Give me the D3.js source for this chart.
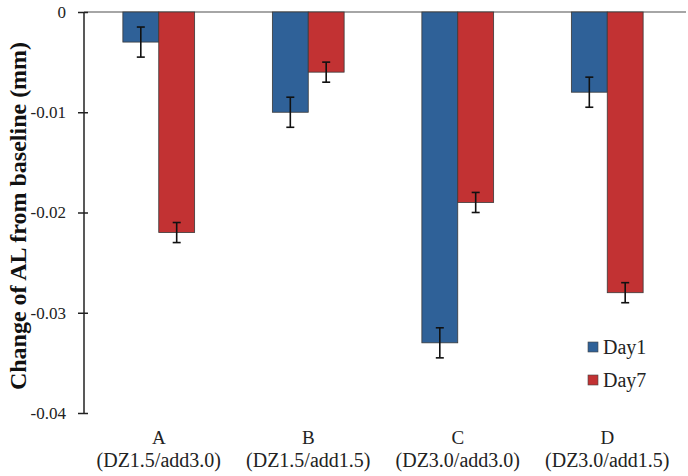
<!DOCTYPE html>
<html><head><meta charset="utf-8">
<script src="https://cdn.jsdelivr.net/npm/d3@7"></script>
<style>body{margin:0;background:#fff}svg{display:block}</style>
</head><body><svg id="c" width="688" height="476"></svg>
<script>
const categories = ["A", "B", "C", "D"];
const subLabels = ["(DZ1.5/add3.0)", "(DZ1.5/add1.5)", "(DZ3.0/add3.0)", "(DZ3.0/add1.5)"];
const seriesNames = ["Day1", "Day7"];
const day1 = [-0.003, -0.010, -0.033, -0.008];
const day7 = [-0.022, -0.006, -0.019, -0.028];
const day1Err = [0.0015, 0.0015, 0.0015, 0.0015];
const day7Err = [0.001, 0.001, 0.001, 0.001];
const yTicks = [0, -0.01, -0.02, -0.03, -0.04];
const colors = ["#2f6198", "#c23233"];

const svg = d3.select("#c");
const fontFamily = "'Liberation Serif', serif";
const x0 = d3.scaleBand().domain(categories).range([84, 682]).paddingInner(0.52).paddingOuter(0.26);
const x1 = d3.scaleBand().domain(seriesNames).range([0, x0.bandwidth()]);
const y = d3.scaleLinear().domain([0, -0.04]).range([12, 413]);

const values = [day1, day7], errs = [day1Err, day7Err];

// top baseline
svg.append("line").attr("x1", 84).attr("x2", 686).attr("y1", y(0)).attr("y2", y(0))
  .attr("stroke", "#888").attr("stroke-width", 1.5);

// bars
seriesNames.forEach((s, si) => {
  const g = svg.append("g");
  categories.forEach((c, ci) => {
    const v = values[si][ci];
    const bx = x0(c) + x1(s);
    g.append("rect").attr("x", bx).attr("y", y(0)).attr("width", x1.bandwidth())
      .attr("height", y(v) - y(0)).attr("fill", colors[si]).attr("stroke", "#3a3a3a").attr("stroke-width", 0.8);
    const cx = bx + x1.bandwidth() / 2;
    const e = errs[si][ci];
    const t = y(v + e), b = y(v - e);
    g.append("line").attr("x1", cx).attr("x2", cx).attr("y1", t).attr("y2", b).attr("stroke", "#111").attr("stroke-width", 1.6);
    [t, b].forEach(yy => g.append("line").attr("x1", cx - 4).attr("x2", cx + 4).attr("y1", yy).attr("y2", yy).attr("stroke", "#111").attr("stroke-width", 1.6));
  });
});

// y axis
const ya = svg.append("g").attr("transform", "translate(84,0)")
  .call(d3.axisLeft(y).tickValues(yTicks).tickFormat(d => d === 0 ? "0" : d3.format(".2f")(d).replace("−", "-")).tickSize(6).tickPadding(12));
ya.select(".domain").attr("stroke", "#222").attr("stroke-width", 1.5).attr("d", `M0,${y(0)}V${y(-0.04)}`);
ya.selectAll(".tick line").attr("stroke", "#222").attr("stroke-width", 1.5).attr("x1", -6).attr("x2", 4);
ya.selectAll(".tick text").style("font-family", fontFamily).style("font-size", "17px").attr("fill", "#222");

// x labels
categories.forEach((c, i) => {
  const cx = x0(c) + x0.bandwidth() / 2;
  svg.append("text").attr("x", cx).attr("y", 444).attr("text-anchor", "middle")
    .style("font-family", fontFamily).style("font-size", "19px").attr("fill", "#222").text(c);
  svg.append("text").attr("x", cx).attr("y", 467).attr("text-anchor", "middle")
    .style("font-family", fontFamily).style("font-size", "20px").attr("fill", "#222").text(subLabels[i]);
});

// y title
svg.append("text").attr("transform", "translate(26,216) rotate(-90)").attr("text-anchor", "middle")
  .style("font-family", fontFamily).style("font-weight", "bold").style("font-size", "24px").attr("fill", "#111")
  .text("Change of AL from baseline (mm)");

// legend
seriesNames.forEach((s, i) => {
  const ly = 347 + i * 33;
  svg.append("rect").attr("x", 588).attr("y", ly - 5).attr("width", 10).attr("height", 10)
    .attr("fill", colors[i]).attr("stroke", "#444").attr("stroke-width", 0.6);
  svg.append("text").attr("x", 603).attr("y", ly + 7)
    .style("font-family", fontFamily).style("font-size", "20px").attr("fill", "#222").text(s);
});
</script></body></html>
